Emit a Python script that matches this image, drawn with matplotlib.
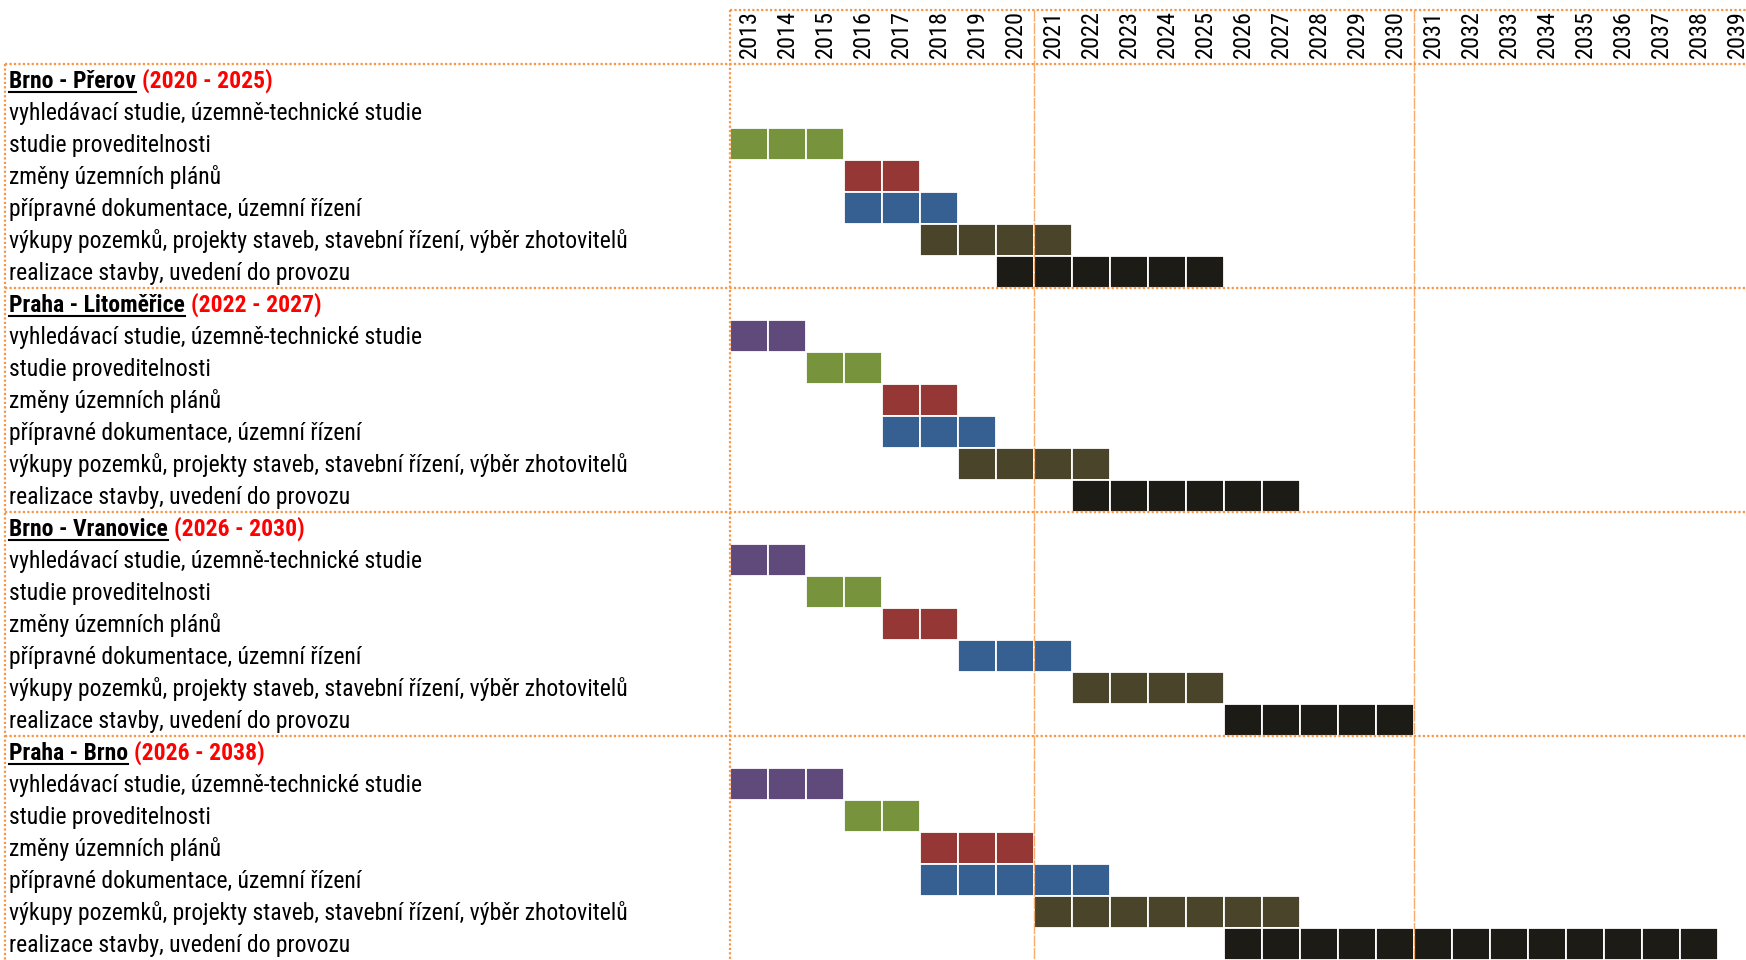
import matplotlib
matplotlib.use("Agg")
import matplotlib.pyplot as plt
from matplotlib import font_manager as fm

# ==========================================================
# DATA
# ==========================================================

years = list(range(2013, 2040))

groups = ["Brno - Přerov", "Praha - Litoměřice", "Brno - Vranovice", "Praha - Brno"]
group_periods = ["(2020 - 2025)", "(2022 - 2027)", "(2026 - 2030)", "(2026 - 2038)"]

phases = [
    "vyhledávací studie, územně-technické studie",
    "studie proveditelnosti",
    "změny územních plánů",
    "přípravné dokumentace, územní řízení",
    "výkupy pozemků, projekty staveb, stavební řízení, výběr zhotovitelů",
    "realizace stavby, uvedení do provozu",
]
phase_colors = ["#604A7B", "#77933C", "#953735", "#376092", "#4A452A", "#1D1B16"]

# first / last year of each phase (None = no bar)
brno_prerov_start = [None, 2013, 2016, 2016, 2018, 2020]
brno_prerov_end = [None, 2015, 2017, 2018, 2021, 2025]

praha_litomerice_start = [2013, 2015, 2017, 2017, 2019, 2022]
praha_litomerice_end = [2014, 2016, 2018, 2019, 2022, 2027]

brno_vranovice_start = [2013, 2015, 2017, 2019, 2022, 2026]
brno_vranovice_end = [2014, 2016, 2018, 2021, 2025, 2030]

praha_brno_start = [2013, 2016, 2018, 2018, 2021, 2026]
praha_brno_end = [2015, 2017, 2020, 2022, 2027, 2038]

starts = [brno_prerov_start, praha_litomerice_start, brno_vranovice_start, praha_brno_start]
ends = [brno_prerov_end, praha_litomerice_end, brno_vranovice_end, praha_brno_end]

# ==========================================================
# FONTS (narrow face for the labels, like Arial Narrow)
# ==========================================================

installed = {f.name for f in fm.fontManager.ttflist}
narrow = "DejaVu Sans"
for cand in ["Liberation Sans Narrow", "Arial Narrow", "Roboto Condensed",
             "Archivo Narrow", "PT Sans Narrow"]:
    if cand in installed:
        narrow = cand
        break
LABEL_FONT = [narrow, "DejaVu Sans"]
STRETCH = "condensed" if narrow == "DejaVu Sans" else "normal"

ORANGE = "#F79646"

fig = plt.figure(figsize=(17.46, 9.6), dpi=100)
ax = fig.add_axes([0, 0, 1, 1])

col_px = 38.0
row_px = 32.0
left_px = 730.5
head_px = 63.5

x0 = years[0] - left_px / col_px
ax.set_xlim(x0, x0 + 1746 / col_px)
y0 = -head_px / row_px
ax.set_ylim(y0 + 960 / row_px, y0)
ax.axis("off")

rows_per_group = len(phases) + 1
n_rows = rows_per_group * len(groups)
top_line = y0 + 10 / row_px
left_line = x0 + 5.5 / col_px

# ==========================================================
# BARS
# ==========================================================

for g in range(len(groups)):
    for p in range(len(phases)):
        s = starts[g][p]
        e = ends[g][p]
        if s is None:
            continue
        row = g * rows_per_group + 1 + p
        cells = [y for y in years if s <= y <= e]
        ax.barh(
            [row + 0.5] * len(cells),
            [1] * len(cells),
            left=cells,
            height=1,
            color=phase_colors[p],
            edgecolor="white",
            linewidth=1.3,
            zorder=2,
        )

# ==========================================================
# GRID LINES
# ==========================================================

dotted = dict(color=ORANGE, linewidth=1.6, linestyle=(0, (1, 1)), zorder=3)

ax.plot([years[0], ax.get_xlim()[1]], [top_line, top_line], **dotted)
for g in range(len(groups)):
    yy = g * rows_per_group
    ax.plot([left_line, ax.get_xlim()[1]], [yy, yy], **dotted)
ax.plot([left_line, left_line], [0, n_rows], **dotted)
ax.plot([years[0], years[0]], [top_line, n_rows], **dotted)

for yr in [2021, 2031]:
    ax.plot([yr, yr], [top_line, n_rows], color=ORANGE, linewidth=1.0,
            linestyle=(0, (8, 1)), alpha=0.8, zorder=3)

# ==========================================================
# YEAR HEADER
# ==========================================================

for yr in years:
    ax.text(yr + 0.5, -0.17, str(yr), rotation=90, ha="center", va="bottom",
            fontsize=17.5, family=LABEL_FONT, fontstretch=STRETCH, color="black")

# ==========================================================
# ROW LABELS
# ==========================================================

label_x = x0 + 9 / col_px
titles = []
fs = 17

for g in range(len(groups)):
    base = g * rows_per_group
    t = ax.text(label_x, base + 0.56, groups[g], ha="left", va="center",
                fontsize=fs, fontweight="bold", family=LABEL_FONT,
                fontstretch=STRETCH, color="black")
    titles.append(t)
    ax.annotate(group_periods[g], xy=(1, 0), xycoords=t, xytext=(4.5, 0),
                textcoords="offset points", ha="left", va="bottom",
                fontsize=fs, fontweight="bold", family=LABEL_FONT,
                fontstretch=STRETCH, color="#FF0000")
    for p in range(len(phases)):
        ax.text(label_x, base + 1.56 + p, phases[p], ha="left", va="center",
                fontsize=fs, family=LABEL_FONT, fontstretch=STRETCH, color="black")

# underline the group names
fig.canvas.draw()
renderer = fig.canvas.get_renderer()
inv = ax.transData.inverted()
for t in titles:
    bb = t.get_window_extent(renderer)
    (xa, ya), (xb, yb) = inv.transform([(bb.x0, bb.y0 + 1), (bb.x1, bb.y0 + 1)])
    ax.plot([xa, xb], [ya, yb], color="black", linewidth=1.5, zorder=4)

fig.savefig("out.png", dpi=100)
